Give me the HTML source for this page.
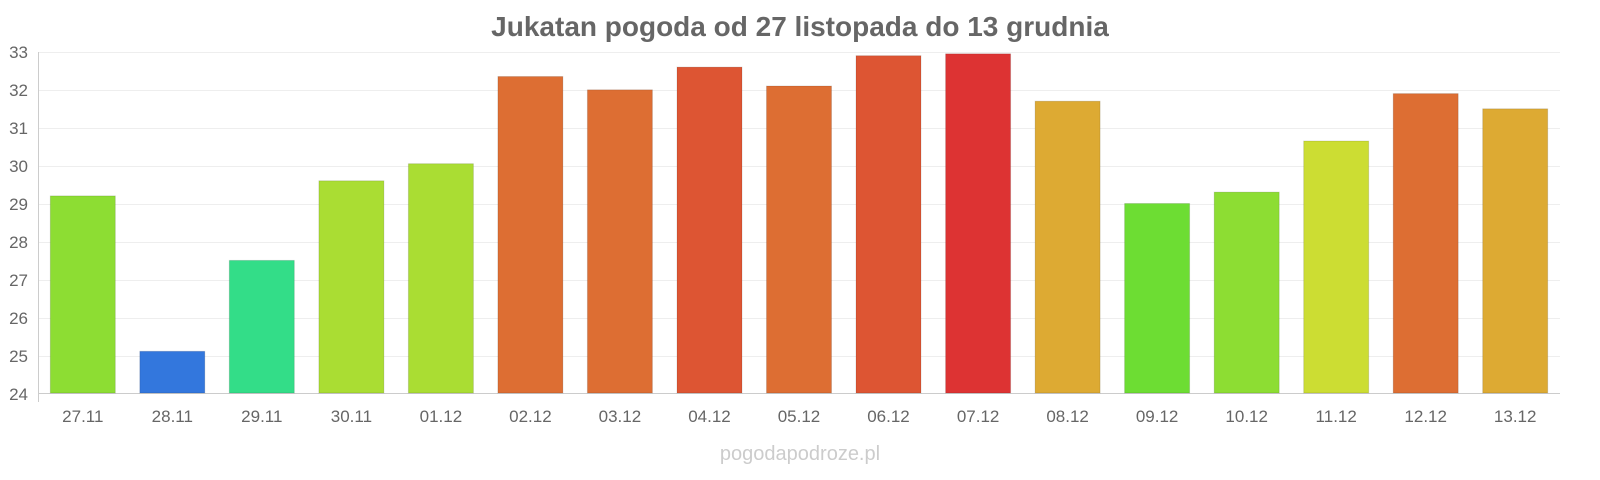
<!DOCTYPE html>
<html><head><meta charset="utf-8"><style>
body{margin:0;background:#fff;}
svg{display:block;font-family:"Liberation Sans",sans-serif;}
</style></head><body>
<svg width="1600" height="480" viewBox="0 0 1600 480">
<text x="800" y="36" text-anchor="middle" font-size="28" font-weight="bold" fill="#666">Jukatan pogoda od 27 listopada do 13 grudnia</text>
<g stroke="#eee" stroke-width="1">
<line x1="38" x2="1560" y1="52.5" y2="52.5"/><line x1="38" x2="1560" y1="90.5" y2="90.5"/><line x1="38" x2="1560" y1="128.5" y2="128.5"/><line x1="38" x2="1560" y1="166.5" y2="166.5"/><line x1="38" x2="1560" y1="204.5" y2="204.5"/><line x1="38" x2="1560" y1="242.5" y2="242.5"/><line x1="38" x2="1560" y1="280.5" y2="280.5"/><line x1="38" x2="1560" y1="318.5" y2="318.5"/><line x1="38" x2="1560" y1="356.5" y2="356.5"/>
</g>
<line x1="38.5" x2="38.5" y1="52" y2="402" stroke="#ccc"/>
<line x1="38" x2="1560" y1="393.5" y2="393.5" stroke="#ccc"/>
<g font-size="17" fill="#666" text-anchor="end">
<text x="28" y="58">33</text><text x="28" y="96">32</text><text x="28" y="134">31</text><text x="28" y="172">30</text><text x="28" y="210">29</text><text x="28" y="248">28</text><text x="28" y="286">27</text><text x="28" y="324">26</text><text x="28" y="362">25</text><text x="28" y="400">24</text>
</g>
<g stroke="rgba(0,0,0,0.12)">
<rect x="50.3" y="195.9" width="65" height="197.1" fill="#8ddd33"/>
<rect x="139.8" y="351.3" width="65" height="41.7" fill="#3377dd"/>
<rect x="229.3" y="260.4" width="65" height="132.6" fill="#33dd88"/>
<rect x="318.9" y="180.8" width="65" height="212.2" fill="#aadd33"/>
<rect x="408.4" y="163.7" width="65" height="229.3" fill="#aadd33"/>
<rect x="497.9" y="76.5" width="65" height="316.5" fill="#dd6e33"/>
<rect x="587.4" y="89.8" width="65" height="303.2" fill="#dd6e33"/>
<rect x="677" y="67.1" width="65" height="325.9" fill="#dd5533"/>
<rect x="766.5" y="86" width="65" height="307" fill="#dd6e33"/>
<rect x="856" y="55.7" width="65" height="337.3" fill="#dd5533"/>
<rect x="945.6" y="53.8" width="65" height="339.2" fill="#dd3333"/>
<rect x="1035.1" y="101.2" width="65" height="291.8" fill="#ddaa33"/>
<rect x="1124.6" y="203.5" width="65" height="189.5" fill="#6ddd33"/>
<rect x="1214.2" y="192.1" width="65" height="200.9" fill="#8ddd33"/>
<rect x="1303.7" y="141" width="65" height="252" fill="#ccdd33"/>
<rect x="1393.2" y="93.6" width="65" height="299.4" fill="#dd6e33"/>
<rect x="1482.7" y="108.8" width="65" height="284.2" fill="#ddaa33"/>
</g>
<g font-size="17" fill="#666" text-anchor="middle">
<text x="82.8" y="422">27.11</text><text x="172.3" y="422">28.11</text><text x="261.8" y="422">29.11</text><text x="351.4" y="422">30.11</text><text x="440.9" y="422">01.12</text><text x="530.4" y="422">02.12</text><text x="619.9" y="422">03.12</text><text x="709.5" y="422">04.12</text><text x="799" y="422">05.12</text><text x="888.5" y="422">06.12</text><text x="978.1" y="422">07.12</text><text x="1067.6" y="422">08.12</text><text x="1157.1" y="422">09.12</text><text x="1246.7" y="422">10.12</text><text x="1336.2" y="422">11.12</text><text x="1425.7" y="422">12.12</text><text x="1515.2" y="422">13.12</text>
</g>
<text x="800" y="460" text-anchor="middle" font-size="20" fill="#ccc">pogodapodroze.pl</text>
</svg>
</body></html>
